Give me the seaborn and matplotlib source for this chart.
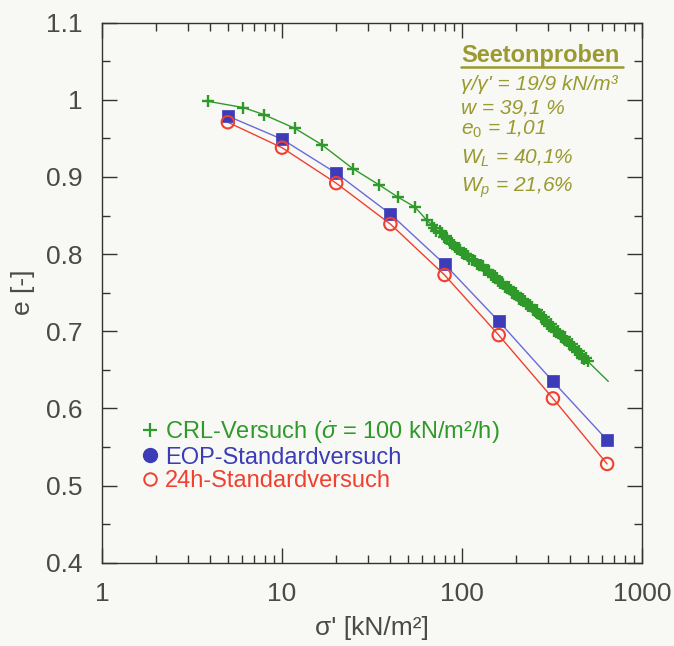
import matplotlib
matplotlib.use("Agg")
import matplotlib.pyplot as plt
import seaborn as sns
import numpy as np
import pandas as pd
from matplotlib.lines import Line2D
from matplotlib.ticker import FixedLocator, FuncFormatter, LogLocator, NullFormatter

# ---------------- data ----------------
eop_sigma = [5, 10, 20, 40, 80, 160, 320, 640]
eop_e = [0.979, 0.949, 0.905, 0.852, 0.787, 0.713, 0.635, 0.559]
h24_sigma = [5, 10, 20, 40, 80, 160, 320, 640]
h24_e = [0.971, 0.938, 0.892, 0.839, 0.773, 0.695, 0.613, 0.528]

crl_sigma = [3.9, 6.1, 7.9, 11.8, 16.6, 24.7, 34.5, 44, 54.8, 63.7,
             68, 70, 72, 75, 77, 79, 81, 83, 86, 88,
             90, 92, 94, 96, 98, 100, 103, 105, 108, 110,
             113, 115, 118, 121, 124, 127, 130, 133, 136, 139,
             142, 145, 149, 152, 156, 159, 163, 166, 170, 174,
             178, 182, 186, 190, 195, 199, 204, 208, 213, 218,
             223, 228, 233, 238, 244, 249, 255, 261, 267, 273,
             279, 285, 292, 298, 305, 312, 319, 326, 334, 341,
             349, 357, 365, 373, 382, 391, 400, 409, 418, 427,
             437, 447, 457, 467, 478, 489, 500]
crl_e = [0.998, 0.990, 0.981, 0.963, 0.942, 0.911, 0.890, 0.874, 0.861, 0.844,
         0.838, 0.834, 0.830, 0.830, 0.827, 0.822, 0.823, 0.820, 0.815, 0.815,
         0.812, 0.809, 0.807, 0.808, 0.806, 0.802, 0.800, 0.800, 0.798, 0.794,
         0.793, 0.793, 0.791, 0.787, 0.786, 0.786, 0.784, 0.780, 0.779, 0.780,
         0.778, 0.773, 0.771, 0.772, 0.769, 0.765, 0.762, 0.764, 0.761, 0.757,
         0.756, 0.757, 0.754, 0.750, 0.748, 0.749, 0.746, 0.742, 0.741, 0.742,
         0.739, 0.735, 0.733, 0.734, 0.731, 0.727, 0.726, 0.727, 0.723, 0.719,
         0.717, 0.718, 0.714, 0.710, 0.707, 0.709, 0.705, 0.701, 0.699, 0.700,
         0.697, 0.693, 0.691, 0.692, 0.688, 0.684, 0.682, 0.684, 0.680, 0.676,
         0.673, 0.674, 0.670, 0.666, 0.664, 0.665, 0.661]
crl_end_sigma = [650]
crl_end_e = [0.635]

x_ticks = [1, 10, 100, 1000]
y_ticks = [0.4, 0.5, 0.6, 0.7, 0.8, 0.9, 1.0, 1.1]

legend_labels = [r"CRL-Versuch ($\dot{\sigma}$ = 100 kN/m²/h)",
                 "EOP-Standardversuch", "24h-Standardversuch"]
info_title = "Seetonproben"
info_lines = ["γ/γ' = 19/9 kN/m³", "w = 39,1 %", r"e$_0$ = 1,01",
              r"W$_L$ = 40,1%", r"W$_p$ = 21,6%"]

# ---------------- style ----------------
sns.set_style("ticks")
plt.rcParams["font.family"] = ["Liberation Sans", "DejaVu Sans"]
plt.rcParams["mathtext.fontset"] = "custom"
plt.rcParams["mathtext.rm"] = "Liberation Sans"
plt.rcParams["mathtext.it"] = "Liberation Sans:italic"
plt.rcParams["mathtext.bf"] = "Liberation Sans:bold"

BG = "#f8f8f5"
GREEN = "#2f9a2a"
BLUE_M = "#3c3cb8"
BLUE_L = "#6a6ad8"
RED = "#f04030"
OLIVE = "#9a9a30"
DARK = "#333333"
LABEL = "#4a4a4a"

fig = plt.figure(figsize=(6.74, 6.46), dpi=100, facecolor=BG)
ax = fig.add_axes([102 / 674, 1 - 562.7 / 646, 540 / 674, 540 / 646])
ax.set_facecolor(BG)

df_crl_line = pd.DataFrame({"s": crl_sigma + crl_end_sigma, "e": crl_e + crl_end_e})
df_crl = pd.DataFrame({"s": crl_sigma, "e": crl_e})
df_eop = pd.DataFrame({"s": eop_sigma, "e": eop_e})
df_h24 = pd.DataFrame({"s": h24_sigma, "e": h24_e})

sns.lineplot(data=df_h24, x="s", y="e", sort=False, estimator=None,
             color=RED, lw=1.0, ax=ax, legend=False)
sns.lineplot(data=df_eop, x="s", y="e", sort=False, estimator=None,
             color=BLUE_L, lw=1.0, ax=ax, legend=False)
sns.lineplot(data=df_crl_line, x="s", y="e", sort=False, estimator=None,
             color=GREEN, lw=1.0, ax=ax, legend=False)
sns.scatterplot(data=df_crl, x="s", y="e", marker="+", s=80, color=GREEN,
                linewidth=1.7, ax=ax, legend=False, zorder=4)
sns.scatterplot(data=df_eop, x="s", y="e", marker="s", s=80, color=BLUE_M,
                edgecolor=BLUE_M, linewidth=0.5, ax=ax, legend=False, zorder=5)
sns.scatterplot(data=df_h24, x="s", y="e", marker="o", s=80, facecolor="none",
                edgecolor=RED, linewidth=1.5, ax=ax, legend=False, zorder=6)

ax.set_xscale("log")
ax.set_xlim(1, 1000)
ax.set_ylim(0.4, 1.1)
ax.xaxis.set_major_locator(FixedLocator(x_ticks))
ax.xaxis.set_major_formatter(FuncFormatter(lambda v, p: f"{v:g}"))
ax.xaxis.set_minor_locator(LogLocator(base=10, subs=np.arange(2, 10)))
ax.xaxis.set_minor_formatter(NullFormatter())
ax.yaxis.set_major_locator(FixedLocator(y_ticks))
ax.yaxis.set_major_formatter(FuncFormatter(lambda v, p: f"{v:g}"))
ax.yaxis.set_minor_locator(FixedLocator(np.arange(0.45, 1.1, 0.1)))

for side in ["top", "right", "bottom", "left"]:
    ax.spines[side].set_visible(True)
    ax.spines[side].set_color(DARK)
    ax.spines[side].set_linewidth(1.0)

ax.tick_params(which="both", direction="in", top=True, right=True, color=DARK, width=1.0)
ax.tick_params(which="major", length=11)
ax.tick_params(which="minor", length=6)
ax.tick_params(axis="y", which="major", pad=14, labelsize=19, labelcolor=LABEL)
ax.tick_params(axis="x", which="major", pad=14, labelsize=19, labelcolor=LABEL)

ax.set_xlabel("σ' [kN/m²]", fontsize=19, color=LABEL, labelpad=7)
ax.set_ylabel("e [-]", fontsize=19, color=LABEL, labelpad=8)

handles = [
    Line2D([], [], marker="+", ls="none", color=GREEN, markersize=10, mew=1.6),
    Line2D([], [], marker="o", ls="none", color=BLUE_M, markersize=10),
    Line2D([], [], marker="o", ls="none", markerfacecolor="none",
           markeredgecolor=RED, markersize=9, mew=1.4),
]
leg = ax.legend(handles, legend_labels, loc="upper left",
                bbox_to_anchor=(0.075, 0.266), frameon=False, fontsize=17,
                handlelength=0.6, handletextpad=0.35, labelspacing=0.05,
                borderpad=0, borderaxespad=0,
                labelcolor=[GREEN, BLUE_M, RED])

# info block
ax.text(0.666, 0.9278, info_title, transform=ax.transAxes, fontsize=17,
        fontweight="bold", color=OLIVE, va="baseline", ha="left")
ax.plot([0.664, 0.964], [0.9185, 0.9185], transform=ax.transAxes,
        color=OLIVE, lw=1.8, clip_on=False)
baselines = [0.8754, 0.8322, 0.7920, 0.7383, 0.6865]
for txt, yb in zip(info_lines, baselines):
    ax.text(0.6655, yb, txt, transform=ax.transAxes, fontsize=15,
            style="italic", color=OLIVE, va="baseline", ha="left")

fig.savefig("out.png", dpi=100, facecolor=BG)
